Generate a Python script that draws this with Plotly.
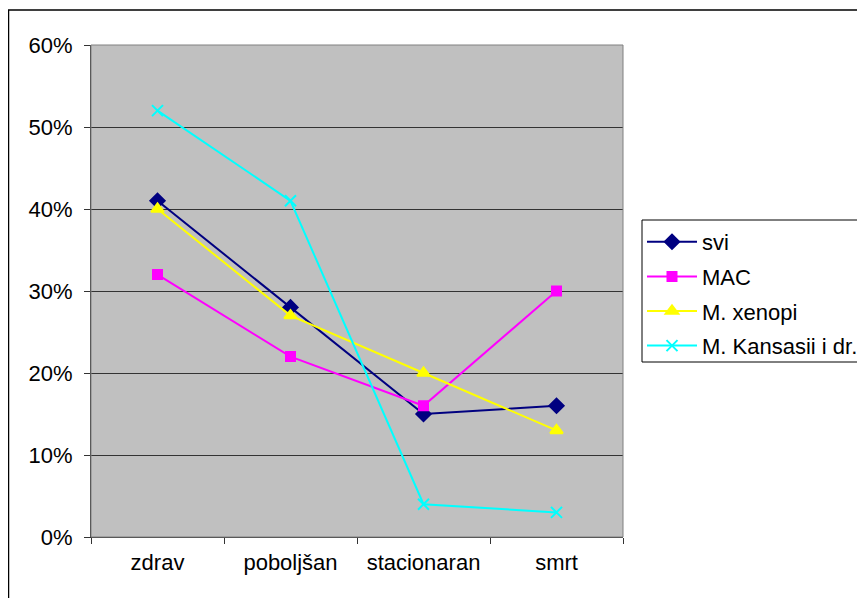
import plotly.graph_objects as go

categories = ["zdrav", "poboljšan", "stacionaran", "smrt"]
svi = [0.41, 0.28, 0.15, 0.16]
mac = [0.32, 0.22, 0.16, 0.30]
xenopi = [0.40, 0.27, 0.20, 0.13]
kansasii = [0.52, 0.41, 0.04, 0.03]
series_names = ["svi", "MAC", "M. xenopi", "M. Kansasii i dr."]

OFF = 8  # page body margin
W, H = 857, 590
L, T = 91 - OFF, 45 - OFF
pw, ph = 532, 492
R = W - L - pw
B = H - T - ph

def px_x(p):  # screen pixel -> paper
    return (p - OFF - L) / pw

def px_y(p):
    return (T + ph - (p - OFF)) / ph

fig = go.Figure()
styles = [
    (svi, "#000080", "diamond", 11),
    (mac, "#FF00FF", "square", 9),
    (xenopi, "#FFFF00", "triangle-up", 11),
    (kansasii, "#00FFFF", "x-thin", 11),
]
for i, (vals, col, sym, sz) in enumerate(styles):
    fig.add_trace(go.Scatter(
        x=categories, y=vals, name=series_names[i], mode="lines+markers",
        line=dict(color=col, width=2),
        marker=dict(symbol=sym, size=sz, color=col, line=dict(color=col, width=2)),
        legendgroup=str(i),
    ))

fig.update_layout(
    width=W, height=H,
    margin=dict(l=L, r=R, t=T, b=B, autoexpand=False),
    paper_bgcolor="white", plot_bgcolor="#C0C0C0",
    font=dict(family="Liberation Sans, Arial", size=22, color="black"),
    showlegend=True,
    legend=dict(x=px_x(642), y=px_y(221), xanchor="left", yanchor="top",
                borderwidth=0, bgcolor="rgba(0,0,0,0)",
                font=dict(size=22), tracegroupgap=3, itemwidth=50),
    xaxis=dict(type="category", range=[-0.5, 3.5], tickson="boundaries",
               ticks="outside", ticklen=6, tickcolor="#333", showgrid=False,
               showline=True, linecolor="#333", linewidth=1, zeroline=False,
               ticklabelstandoff=6, fixedrange=True),
    yaxis=dict(range=[0, 0.6], dtick=0.1, tickformat=".0%", ticks="outside",
               ticklen=6, tickcolor="#333", showgrid=True, gridcolor="#333",
               gridwidth=1, showline=True, linecolor="#333", linewidth=1,
               zeroline=False, ticklabelstandoff=7, fixedrange=True),
    shapes=[
        dict(type="rect", xref="paper", yref="paper", x0=0, x1=1, y0=0, y1=1,
             line=dict(color="#808080", width=1), layer="above"),
        dict(type="rect", xref="paper", yref="paper",
             x0=px_x(8.5), x1=px_x(880), y0=px_y(620), y1=px_y(10),
             line=dict(color="black", width=1.5)),
        dict(type="rect", xref="paper", yref="paper",
             x0=px_x(642), x1=px_x(880), y0=px_y(362), y1=px_y(220),
             line=dict(color="black", width=1), fillcolor="white", layer="below"),
    ],
)

fig.write_html("out.html")
